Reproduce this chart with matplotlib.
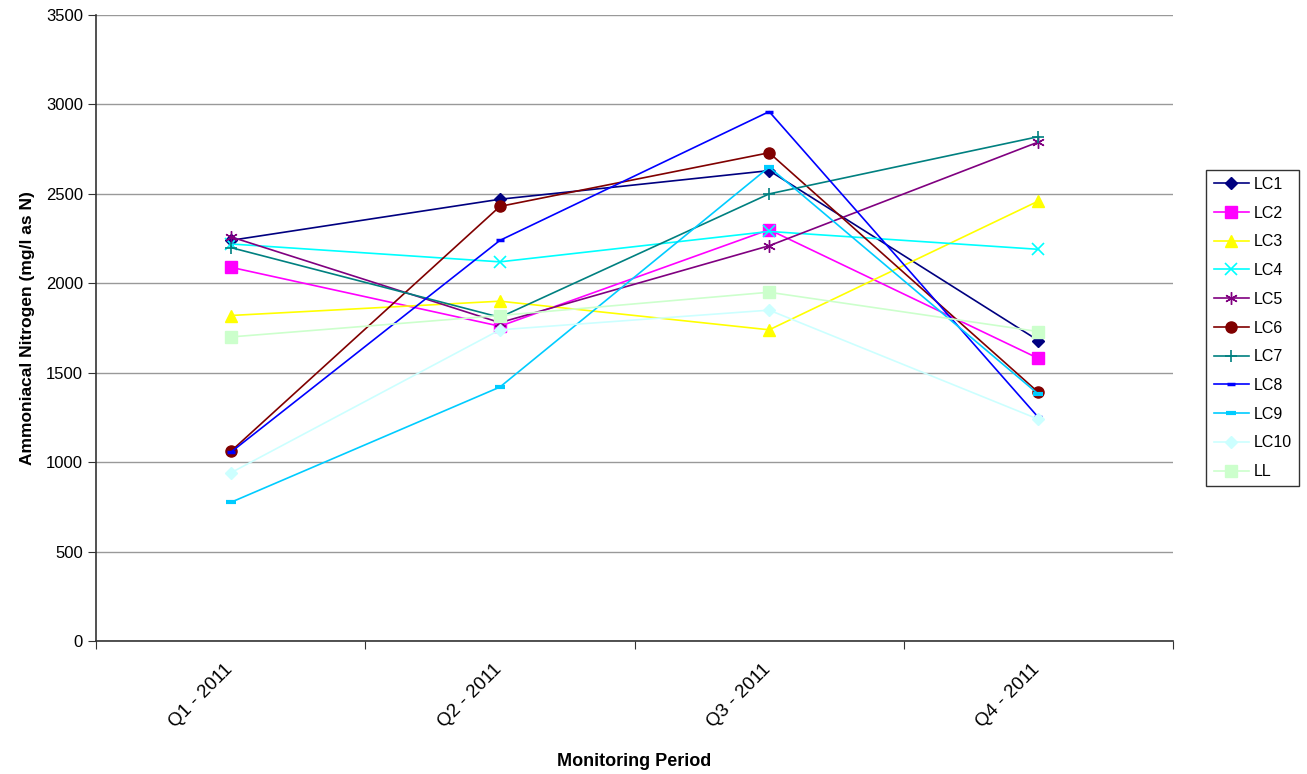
import matplotlib.pyplot as plt
import matplotlib.transforms as mtransforms
from matplotlib.ticker import FixedLocator

plt.rcParams['font.family'] = ['Liberation Sans', 'DejaVu Sans']

# Data
periods = ['Q1 - 2011', 'Q2 - 2011', 'Q3 - 2011', 'Q4 - 2011']
series_names = ['LC1', 'LC2', 'LC3', 'LC4', 'LC5', 'LC6', 'LC7', 'LC8', 'LC9', 'LC10', 'LL']

lc1 = [2240, 2470, 2630, 1680]
lc2 = [2090, 1760, 2300, 1580]
lc3 = [1820, 1900, 1740, 2460]
lc4 = [2220, 2120, 2290, 2190]
lc5 = [2260, 1780, 2210, 2790]
lc6 = [1060, 2430, 2730, 1390]
lc7 = [2200, 1810, 2500, 2820]
lc8 = [1055, 2240, 2960, 1250]
lc9 = [775, 1420, 2650, 1380]
lc10 = [940, 1740, 1850, 1240]
ll = [1700, 1820, 1950, 1730]

series_values = [lc1, lc2, lc3, lc4, lc5, lc6, lc7, lc8, lc9, lc10, ll]

colors = ['#000080', '#FF00FF', '#FFFF00', '#00FFFF', '#800080', '#800000',
          '#008080', '#0000FF', '#00CCFF', '#CCFFFF', '#CCFFCC']
markers = ['D', 's', '^', 'x', (6, 2, 0), 'o', '+', '_', '_', 'D', 's']
msizes = [6, 8, 8, 8, 9, 8, 9, 6, 7, 6, 8]
mews = [1, 1, 1, 1.2, 1, 1, 1.2, 2.5, 3, 1, 1]

fig = plt.figure(figsize=(13.07, 7.74), dpi=100)
ax = fig.add_axes([0.0735, 0.1718, 0.824, 0.8088])

xs = [i + 0.5 for i in range(len(periods))]
for name, vals, c, m, ms, mew in zip(series_names, series_values, colors, markers, msizes, mews):
    ax.plot(xs, vals, color=c, marker=m, markersize=ms, markeredgewidth=mew,
            markeredgecolor=c, markerfacecolor=c, linewidth=1.2, label=name)

ax.set_xlim(0, 4)
ax.set_ylim(0, 3500)
ax.set_yticks(range(0, 3501, 500))
ax.xaxis.set_major_locator(FixedLocator([0, 1, 2, 3, 4]))
ax.xaxis.set_minor_locator(FixedLocator(xs))
ax.set_xticklabels([])
ax.set_xticklabels(periods, minor=True, rotation=45, ha='right', va='top',
                   rotation_mode='anchor', fontsize=13.5)
ax.tick_params(axis='x', which='minor', length=0, pad=14)
ax.tick_params(axis='x', which='major', length=6, direction='out', color='#333333')
ax.tick_params(axis='y', length=6, direction='out', color='#333333', labelsize=12)

# nudge the rotated category labels slightly left
shift = mtransforms.ScaledTranslation(-5 / 72, 0, fig.dpi_scale_trans)
for lbl in ax.get_xticklabels(minor=True):
    lbl.set_transform(lbl.get_transform() + shift)

ax.grid(axis='y', color='#999999', linewidth=1)
ax.set_axisbelow(True)
for s in ['top', 'right']:
    ax.spines[s].set_visible(False)
for s in ['left', 'bottom']:
    ax.spines[s].set_color('#333333')
    ax.spines[s].set_linewidth(1.2)

ax.set_xlabel('Monitoring Period', fontsize=13, fontweight='bold', labelpad=16)
ax.set_ylabel('Ammoniacal Nitrogen (mg/l as N)', fontsize=12.5, fontweight='bold', labelpad=8)

leg = ax.legend(loc='center left', bbox_to_anchor=(1.031, 0.5), frameon=True,
                fancybox=False, edgecolor='black', fontsize=11.5, handlelength=2.2,
                handletextpad=0.3, labelspacing=0.86, borderpad=0.45, borderaxespad=0)
leg.get_frame().set_linewidth(1)

fig.savefig('out.png', dpi=100)
